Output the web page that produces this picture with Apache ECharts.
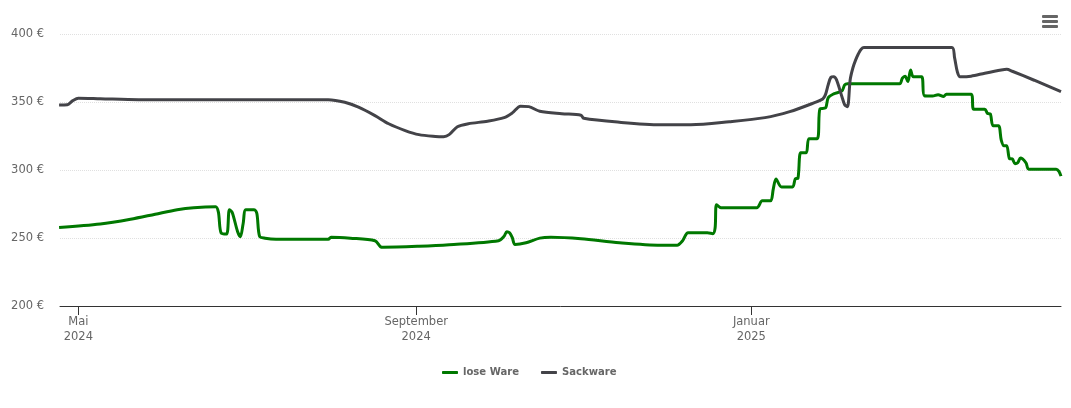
<!DOCTYPE html>
<html>
<head>
<meta charset="utf-8">
<title>Preisentwicklung</title>
<style>
html, body { margin: 0; padding: 0; background: #fff; }
#chart { width: 1071px; height: 408px; }
</style>
<script src="https://cdn.jsdelivr.net/npm/echarts@6/dist/echarts.min.js"></script>
</head>
<body>
<div id="chart"></div>
<script>
var seriesNames = ['lose Ware', 'Sackware'];
var tickDates = ['2024-05-01', '2024-09-01', '2025-01-01'];
var monthNames = ['Januar', 'Februar', 'März', 'April', 'Mai', 'Juni', 'Juli', 'August', 'September', 'Oktober', 'November', 'Dezember'];

// lose Ware
var looseDates = ['2024-04-24', '2024-05-09', '2024-05-20', '2024-05-29', '2024-06-06', '2024-06-12', '2024-06-20', '2024-06-21', '2024-06-22', '2024-06-24', '2024-06-25', '2024-06-26', '2024-06-28', '2024-06-29', '2024-06-30', '2024-07-01', '2024-07-04', '2024-07-05', '2024-07-06', '2024-07-08', '2024-07-12', '2024-07-31', '2024-08-01', '2024-08-08', '2024-08-17', '2024-08-19', '2024-08-20', '2024-09-02', '2024-09-13', '2024-10-01', '2024-10-03', '2024-10-04', '2024-10-05', '2024-10-06', '2024-10-07', '2024-10-11', '2024-10-16', '2024-10-20', '2024-10-31', '2024-11-14', '2024-11-29', '2024-12-05', '2024-12-07', '2024-12-09', '2024-12-16', '2024-12-18', '2024-12-18 20:00', '2024-12-19 08:00', '2024-12-21', '2025-01-03', '2025-01-05', '2025-01-08', '2025-01-09', '2025-01-10', '2025-01-12', '2025-01-16', '2025-01-17', '2025-01-18', '2025-01-19', '2025-01-21', '2025-01-22', '2025-01-25', '2025-01-26', '2025-01-28', '2025-01-29', '2025-01-31', '2025-02-03', '2025-02-04', '2025-02-05', '2025-02-24', '2025-02-25', '2025-02-26', '2025-02-27', '2025-02-28', '2025-03-01', '2025-03-04', '2025-03-05', '2025-03-08', '2025-03-10', '2025-03-12', '2025-03-13', '2025-03-22', '2025-03-23', '2025-03-27', '2025-03-28', '2025-03-29', '2025-03-30', '2025-04-01', '2025-04-02', '2025-04-03', '2025-04-04', '2025-04-05', '2025-04-06', '2025-04-07', '2025-04-08', '2025-04-09', '2025-04-11', '2025-04-12', '2025-04-22', '2025-04-23', '2025-04-23 18:00'];
var looseValues = [257.7, 260.3, 263.8, 267.5, 270.8, 272.3, 273, 269, 253.7, 253, 270.8, 269, 254.6, 251, 260.5, 270.8, 270.8, 268, 251.2, 249.8, 249, 249, 250.6, 249.9, 248, 243.6, 243.2, 243.9, 245, 248, 251.3, 254.6, 253.8, 250.2, 245.2, 246.5, 249.9, 250.6, 249.5, 246.5, 244.7, 244.7, 248, 253.8, 253.8, 253.2, 257.5, 274.5, 272.3, 272.3, 277.3, 277.3, 286, 293.4, 287.5, 287.5, 293.4, 294, 312.7, 312.7, 323, 323, 345, 345.6, 353.2, 356, 358.2, 362.6, 363.4, 363.4, 367.5, 369, 365, 373.5, 368.5, 368.5, 354.6, 354.4, 355.4, 354, 355.7, 355.7, 344.7, 344.7, 341.6, 341.3, 332.6, 332.6, 322, 317.8, 317.8, 308.4, 308.2, 304.6, 305.3, 308.8, 305.3, 300.6, 300.6, 299, 295.5];

// Sackware
var sackDates = ['2024-04-24', '2024-04-27', '2024-04-29', '2024-05-01', '2024-05-09', '2024-05-23', '2024-07-02', '2024-07-31', '2024-08-06', '2024-08-11', '2024-08-17', '2024-08-22', '2024-08-28', '2024-09-02', '2024-09-08', '2024-09-11', '2024-09-13', '2024-09-16', '2024-09-20', '2024-09-27', '2024-10-03', '2024-10-06', '2024-10-09', '2024-10-12', '2024-10-16', '2024-10-24', '2024-10-31', '2024-11-01', '2024-11-14', '2024-11-29', '2024-12-10', '2024-12-24', '2025-01-06', '2025-01-15', '2025-01-24', '2025-01-27', '2025-01-28', '2025-01-29', '2025-01-30', '2025-01-31', '2025-02-01', '2025-02-03', '2025-02-04', '2025-02-05', '2025-02-06', '2025-02-07', '2025-02-08', '2025-02-09', '2025-02-10', '2025-02-11', '2025-03-15', '2025-03-16', '2025-03-17', '2025-03-18', '2025-03-22', '2025-03-27', '2025-04-02', '2025-04-04', '2025-04-06', '2025-04-14', '2025-04-23 18:00'];
var sackValues = [347.8, 348, 351, 352.8, 352.4, 351.7, 351.7, 351.7, 349.8, 346.2, 340, 334, 329, 326, 324.7, 324.5, 326, 331.8, 334, 335.9, 338.5, 342, 346.9, 346.6, 343.2, 341.4, 340.3, 338, 335.1, 333.3, 333.3, 335.5, 338.5, 342.9, 349.5, 352.2, 355.4, 362.7, 368.2, 368.6, 366.4, 353.9, 348, 346.5, 366.4, 375.2, 381, 385.5, 388.8, 390, 390, 382.6, 372.3, 368.6, 369, 371.2, 373.6, 374.1, 372.6, 366, 357.6];

function toTime(d) {
    return echarts.time.parse(d).getTime();
}

function zip(dates, values) {
    return dates.map(function (d, i) {
        return [toTime(d), values[i]];
    });
}

var tickValues = tickDates.map(toTime);

var myChart = echarts.init(document.getElementById('chart'));

var lineBase = {
    type: 'line',
    showSymbol: false,
    smooth: 0.3,
    lineStyle: { width: 3 },
    emphasis: { disabled: true }
};

var option = {
    animation: false,
    textStyle: { fontFamily: '"DejaVu Sans", sans-serif' },
    color: ['#007800', '#434348'],
    grid: { left: 60, right: 10, top: 34, height: 272 },
    legend: {
        left: 437,
        top: 362,
        itemWidth: 16,
        itemHeight: 3,
        itemGap: 22,
        icon: 'roundRect',
        textStyle: { fontSize: 11.2, fontWeight: 'bold', fontFamily: '"DejaVu Sans Condensed", "DejaVu Sans", sans-serif', color: '#666' },
        data: seriesNames
    },
    xAxis: {
        type: 'value',
        min: toTime('2024-04-24 08:00'),
        max: toTime('2025-04-23 18:00'),
        axisLine: { onZero: false, lineStyle: { color: '#333', width: 1 } },
        axisTick: { show: true, length: 9, customValues: tickValues, lineStyle: { color: '#333', width: 1 } },
        axisLabel: {
            customValues: tickValues,
            color: '#666',
            fontSize: 11.5,
            lineHeight: 15,
            margin: 9,
            formatter: function (val) {
                var d = new Date(val);
                return monthNames[d.getMonth()] + '\n' + d.getFullYear();
            }
        },
        splitLine: { show: false }
    },
    yAxis: {
        type: 'value',
        min: 200,
        max: 400,
        interval: 50,
        axisLine: { show: false },
        axisTick: { show: false },
        axisLabel: { color: '#666', fontSize: 11.5, margin: 16, formatter: '{value} €' },
        splitLine: { lineStyle: { color: '#e0e0e0', type: 'dotted', width: 1 } }
    },
    graphic: [
        { type: 'rect', left: 1042, top: 15, shape: { width: 16, height: 3, r: 1 }, style: { fill: '#666' } },
        { type: 'rect', left: 1042, top: 20, shape: { width: 16, height: 3, r: 1 }, style: { fill: '#666' } },
        { type: 'rect', left: 1042, top: 25, shape: { width: 16, height: 3, r: 1 }, style: { fill: '#666' } }
    ],
    series: [
        Object.assign({}, lineBase, { name: seriesNames[0], data: zip(looseDates, looseValues) }),
        Object.assign({}, lineBase, { name: seriesNames[1], data: zip(sackDates, sackValues) })
    ]
};

myChart.setOption(option);
</script>
</body>
</html>
